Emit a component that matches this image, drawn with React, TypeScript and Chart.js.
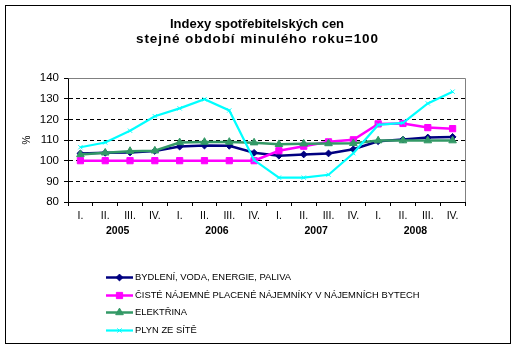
import React, { useEffect, useRef } from "react";
import { Chart, registerables } from "chart.js";
import { drawPoint } from "chart.js/helpers";

Chart.register(...registerables);

const quarters = ["I.", "II.", "III.", "IV.", "I.", "II.", "III.", "IV.", "I.", "II.", "III.", "IV.", "I.", "II.", "III.", "IV."];
const years = ["2005", "2006", "2007", "2008"];
const yTicks = [80, 90, 100, 110, 120, 130, 140];

const bydleni = [103.5, 103.8, 104, 104.7, 106.8, 107.3, 107.2, 103.8, 102.4, 103.0, 103.5, 105.5, 109.4, 110.2, 111.2, 111.5];
const najemne = [100, 100, 100, 100, 100, 100, 100, 100, 104.8, 107.0, 109.1, 110.1, 117.8, 118.0, 116.0, 115.5];
const elektrina = [103.0, 103.8, 104.6, 104.8, 108.8, 109.0, 109.0, 108.7, 107.9, 108.2, 108.3, 108.4, 109.7, 109.7, 109.7, 109.7];
const plyn = [106.5, 108.8, 114.5, 121.5, 125.3, 129.7, 124.3, 100.3, 91.8, 91.8, 93.2, 103.6, 117.3, 118.3, 127.7, 133.4];

const titleText = "Indexy spotřebitelských cen";
const subtitleText = "stejné období minulého roku=100";
const yTitle = "%";

const FONT = "Arial, 'Liberation Sans', sans-serif";

const framePlugin = {
  id: "frame",
  beforeDraw(chart: any) {
    const ctx = chart.ctx;
    ctx.save();
    ctx.fillStyle = "#ffffff";
    ctx.fillRect(0, 0, chart.width, chart.height);
    ctx.strokeStyle = "#000000";
    ctx.lineWidth = 1;
    ctx.strokeRect(5.5, 5.5, chart.width - 11, chart.height - 10);
    ctx.restore();
  },
  afterDatasetsDraw(chart: any) {
    const { ctx, chartArea } = chart;
    ctx.save();
    ctx.strokeStyle = "#808080";
    ctx.lineWidth = 1;
    ctx.beginPath();
    ctx.moveTo(Math.round(chartArea.left) + 0.5, Math.round(chartArea.top) + 0.5);
    ctx.lineTo(Math.round(chartArea.right) + 0.5, Math.round(chartArea.top) + 0.5);
    ctx.lineTo(Math.round(chartArea.right) + 0.5, Math.round(chartArea.bottom));
    ctx.stroke();
    ctx.restore();
  },
};

const titlePlugin = {
  id: "titles",
  afterDraw(chart: any) {
    const ctx = chart.ctx;
    const cx = 257;
    ctx.save();
    ctx.fillStyle = "#000000";
    ctx.textAlign = "center";
    ctx.textBaseline = "middle";
    ctx.font = `bold 13px ${FONT}`;
    ctx.fillText(titleText, cx, 24);
    ctx.font = `bold 13.5px ${FONT}`;
    (ctx as any).letterSpacing = "0.9px";
    ctx.fillText(subtitleText, cx + 0.45, 39.5);
    (ctx as any).letterSpacing = "0px";
    ctx.restore();
  },
};

const legendPlugin = {
  id: "customLegend",
  afterDraw(chart: any) {
    const { ctx, chartArea } = chart;
    const x0 = 106;
    const x1 = 133;
    const startY = chartArea.bottom + 75;
    const step = 17.5;
    ctx.save();
    chart.data.datasets.forEach((ds: any, i: number) => {
      const y = Math.round(startY + i * step) + 0.5;
      ctx.strokeStyle = ds.borderColor;
      ctx.lineWidth = ds.borderWidth;
      ctx.beginPath();
      ctx.moveTo(x0, y);
      ctx.lineTo(x1, y);
      ctx.stroke();
      ctx.fillStyle = ds.pointBackgroundColor;
      ctx.strokeStyle = ds.pointBorderColor;
      ctx.lineWidth = 1;
      drawPoint(ctx, { pointStyle: ds.pointStyle, radius: ds.pointRadius, borderWidth: 1, rotation: 0 } as any, (x0 + x1) / 2, y);
      ctx.fillStyle = "#000000";
      ctx.font = `9.4px ${FONT}`;
      ctx.textBaseline = "middle";
      ctx.textAlign = "left";
      ctx.fillText(ds.label, x1 + 2, y);
    });
    ctx.restore();
  },
};

export default function App() {
  const ref = useRef<HTMLCanvasElement | null>(null);
  useEffect(() => {
    document.body.style.margin = "0";
    const canvas = ref.current!;
    const mk = (label: string, data: number[], color: string, style: string, radius: number, order: number, width = 2.5) => ({
      label,
      data,
      borderColor: color,
      backgroundColor: color,
      pointBackgroundColor: color,
      pointBorderColor: color,
      pointStyle: style,
      pointRadius: radius,
      pointBorderWidth: 1,
      borderWidth: width,
      tension: 0,
      order,
    });
    const chart = new Chart(canvas, {
      type: "line",
      data: {
        labels: quarters,
        datasets: [
          mk("BYDLENÍ, VODA, ENERGIE, PALIVA", bydleni, "#000080", "rectRot", 3.4, 4),
          mk("ČISTÉ NÁJEMNÉ PLACENÉ NÁJEMNÍKY V NÁJEMNÍCH BYTECH", najemne, "#FF00FF", "rect", 4.4, 3),
          mk("ELEKTŘINA", elektrina, "#339966", "triangle", 4.4, 2),
          mk("PLYN ZE SÍTĚ", plyn, "#00FFFF", "crossRot", 3, 1, 2.2),
        ] as any,
      },
      options: {
        responsive: false,
        animation: false,
        devicePixelRatio: 1,
        layout: { padding: { left: 17, right: 51, top: 78, bottom: 104 } },
        plugins: {
          legend: { display: false },
          tooltip: { enabled: false },
          title: { display: false },
        },
        scales: {
          x: {
            type: "category",
            position: "bottom",
            offset: true,
            afterFit: (s: any) => { s.height = 20; },
            grid: { offset: true, drawOnChartArea: false, drawTicks: true, tickLength: 4, color: "#000000" },
            border: { color: "#000000", width: 1 },
            ticks: { color: "#000000", font: { family: FONT, size: 10.5 }, padding: 3.5, maxRotation: 0, autoSkip: false },
          },
          x2: {
            type: "category",
            position: "bottom",
            labels: years,
            offset: true,
            afterFit: (s: any) => { s.height = 22; },
            grid: { display: false, drawTicks: false },
            border: { display: false },
            ticks: { color: "#000000", font: { family: FONT, size: 10.5, weight: "bold" }, padding: 3, maxRotation: 0, autoSkip: false },
          },
          y: {
            min: yTicks[0],
            max: yTicks[yTicks.length - 1],
            afterFit: (s: any) => { s.width = 51; },
            afterBuildTicks: (s: any) => { s.ticks = yTicks.map((v) => ({ value: v })); },
            grid: {
              color: (c: any) => (c.tick && c.tick.value > yTicks[0] && c.tick.value < yTicks[yTicks.length - 1] ? "#000000" : "rgba(0,0,0,0)"),
              tickColor: "#000000",
              tickLength: 4,
              lineWidth: 1,
            },
            border: { color: "#000000", width: 1, dash: [4, 3] },
            title: { display: true, text: yTitle, color: "#000000", font: { family: FONT, size: 10 }, padding: { top: 4, bottom: 0 } },
            ticks: { color: "#000000", font: { family: FONT, size: 11.5 }, padding: 5 },
          },
        },
      },
      plugins: [framePlugin, titlePlugin, legendPlugin],
    } as any);
    return () => chart.destroy();
  }, []);
  return <canvas ref={ref} width={516} height={348} style={{ display: "block" }} />;
}
